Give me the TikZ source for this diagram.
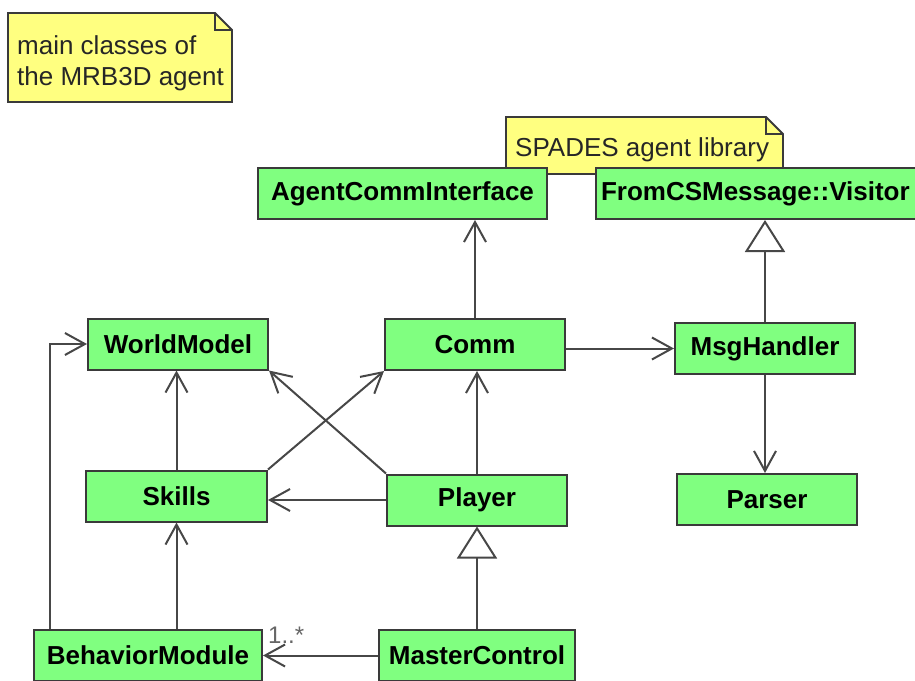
\documentclass[tikz,border=0pt]{standalone}
\usepackage{fontspec}
\setmainfont{Liberation Sans}
\usetikzlibrary{arrows.meta}

\definecolor{classgreen}{HTML}{80FF80}
\definecolor{noteyellow}{HTML}{FFFF80}
\definecolor{edgegray}{HTML}{3A3A3A}

\tikzset{
    classbox/.style={draw=edgegray, line width=2pt, fill=classgreen, minimum height=51pt,
        inner sep=0pt, font=\fontsize{26}{31}\selectfont\bfseries},
    notebox/.style={draw=edgegray, line width=1.8pt, fill=noteyellow, line join=miter},
    notetext/.style={align=left, inner sep=0pt, anchor=north west, text=black!85,
        font=\fontsize{26}{31}\selectfont},
    uses/.style={-{Straight Barb[length=20pt,width=22pt]}},
    isa/.style={-{Triangle[open,length=32pt,width=40pt]}},
}

\begin{document}
\begin{tikzpicture}[x=1pt,y=-1pt]
    \useasboundingbox (0,0) rectangle (915,680);

    % notes
    \draw[notebox] (8,13) -- (215,13) -- (232,30) -- (232,102) -- (8,102) -- cycle;
    \draw[notebox, fill=none] (215,13) -- (215,30) -- (232,30);
    \node[notetext] (mainnote) at (17,35) {main classes of\\the MRB3D agent};

    \draw[notebox] (506,117) -- (766,117) -- (783,134) -- (783,174) -- (506,174) -- cycle;
    \draw[notebox, fill=none] (766,117) -- (766,134) -- (783,134);
    \node[notetext] (spadesnote) at (515,137) {SPADES agent library};

    % library classes
    \node[classbox, minimum width=289pt] (aci) at (402.5,193.5) {AgentCommInterface};
    \node[classbox, anchor=west, text width=340pt, align=left]
        (visitor) at (595,193.5) {\hspace*{5pt}FromCSMessage::Visitor};

    % agent classes
    \node[classbox, minimum width=180pt] (world) at (178,344) {WorldModel};
    \node[classbox, minimum width=180pt] (comm) at (475,344.5) {Comm};
    \node[classbox, minimum width=180pt] (msg) at (765,348.5) {MsgHandler};
    \node[classbox, minimum width=181pt] (skills) at (176.5,496) {Skills};
    \node[classbox, minimum width=180pt] (player) at (477,500) {Player};
    \node[classbox, minimum width=180pt] (parser) at (767,499.5) {Parser};
    \node[classbox, minimum width=228pt] (behavior) at (148,655.5) {BehaviorModule};
    \node[classbox, minimum width=196pt] (master) at (477,655.5) {MasterControl};

    \begin{scope}[every path/.style={line width=2pt, draw=black!72}]

        % generalisations
        \draw[isa] (msg.north) -- (msg.north |- visitor.south);
        \draw[isa] (master.north) -- (master.north |- player.south);

        % associations
        \draw[uses] (comm.north) -- (comm.north |- aci.south);
        \draw[uses] (comm.east |- msg.west) -- (msg.west);
        \draw[uses] (msg.south) -- (msg.south |- parser.north);
        \draw[uses] (skills.north) -- (skills.north |- world.south);
        \draw[uses] (player.north) -- (player.north |- comm.south);
        \draw[uses] (player.north west) -- (world.south east);
        \draw[uses] (skills.north east) -- (comm.south west);
        \draw[uses] (player.west) -- (player.west -| skills.east);
        \draw[uses] (behavior.north -| skills.north) -- (skills.south);
        \draw[uses] ([xshift=17pt]behavior.north west) |- (world.west);
        \draw[uses] (master.west) -- (master.west -| behavior.east);
    \end{scope}

    % multiplicity
    \node[anchor=base west, inner sep=0pt, text=black!60, font=\fontsize{24}{28}\selectfont]
        (mult) at (268,643) {1..*};
\end{tikzpicture}
\end{document}
